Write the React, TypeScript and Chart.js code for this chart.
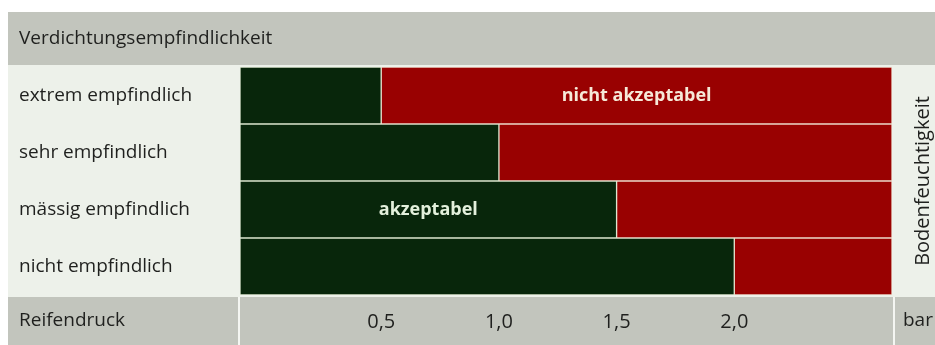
import React, { useEffect, useRef } from "react";
import { Chart, registerables } from "chart.js";

Chart.register(...registerables);

// ---- data ----
const categories = [
  "extrem empfindlich",
  "sehr empfindlich",
  "mässig empfindlich",
  "nicht empfindlich",
];
// tyre pressure (bar) up to which the load is acceptable
const acceptableLimit = [0.5, 1.0, 1.5, 2.0];
const tickValues = [0.5, 1.0, 1.5, 2.0];
const xMin = -0.1;
const xMax = 2.67;

const headerLabel = "Verdichtungsempfindlichkeit";
const axisLabel = "Reifendruck";
const unitLabel = "bar";
const sideLabel = "Bodenfeuchtigkeit";
const annotations = [
  { row: 0, segment: "red", text: "nicht akzeptabel" },
  { row: 2, segment: "green", text: "akzeptabel" },
];

const FONT = "'Open Sans', 'Noto Sans', sans-serif";
const GREEN = "#08260b";
const RED = "#990101";
const GRAY = "#c2c5bd";
const LIGHT = "#edf1ea";
const TEXT = "#1f201e";

const backgroundPlugin = {
  id: "bgPanels",
  beforeDraw(chart: any) {
    const { ctx, chartArea } = chart;
    const W = chart.width;
    const H = chart.height;
    ctx.save();
    ctx.fillStyle = "#ffffff";
    ctx.fillRect(0, 0, W, H);
    // light body
    ctx.fillStyle = LIGHT;
    ctx.fillRect(8, chartArea.top - 2, W - 8, chartArea.bottom - chartArea.top + 4);
    // top gray band
    ctx.fillStyle = GRAY;
    ctx.fillRect(8, 12, W - 8, chartArea.top - 2 - 12);
    // bottom gray band
    ctx.fillRect(8, chartArea.bottom + 2, W - 8, H - chartArea.bottom - 2);
    // white separators in bottom band
    ctx.fillStyle = "#f4f6f2";
    ctx.fillRect(chartArea.left - 2, chartArea.bottom + 2, 2, H - chartArea.bottom);
    ctx.fillRect(chartArea.right + 1, chartArea.bottom + 2, 2, H - chartArea.bottom);
    ctx.restore();
  },
  afterDraw(chart: any) {
    const { ctx, chartArea } = chart;
    const H = chart.height;
    ctx.save();
    ctx.fillStyle = TEXT;
    ctx.font = `19px ${FONT}`;
    ctx.textBaseline = "middle";
    ctx.textAlign = "left";
    ctx.fillText(headerLabel, 19, (12 + chartArea.top - 2) / 2);
    const by = (chartArea.bottom + 2 + H) / 2;
    ctx.fillText(axisLabel, 19, by);
    ctx.fillText(unitLabel, chartArea.right + 11, by);
    // rotated side label
    ctx.font = `20px ${FONT}`;
    ctx.translate(chartArea.right + 31, (chartArea.top + chartArea.bottom) / 2);
    ctx.rotate(-Math.PI / 2);
    ctx.textAlign = "center";
    ctx.fillText(sideLabel, 0, 0);
    ctx.restore();
  },
};

const annotationPlugin = {
  id: "segmentLabels",
  afterDatasetsDraw(chart: any) {
    const { ctx } = chart;
    const xs = chart.scales.x;
    const ys = chart.scales.y;
    ctx.save();
    ctx.font = `bold 18px ${FONT}`;
    ctx.textAlign = "center";
    ctx.textBaseline = "middle";
    annotations.forEach((a) => {
      const lim = acceptableLimit[a.row];
      const x0 = a.segment === "green" ? xs.getPixelForValue(xMin) : xs.getPixelForValue(lim);
      const x1 = a.segment === "green" ? xs.getPixelForValue(lim) : xs.getPixelForValue(xMax);
      ctx.fillStyle = a.segment === "green" ? "#e3f0dc" : "#f6e9d8";
      ctx.fillText(a.text, (x0 + x1) / 2, ys.getPixelForValue(a.row));
    });
    ctx.restore();
  },
};

export default function App() {
  const ref = useRef<HTMLCanvasElement | null>(null);
  useEffect(() => {
    document.body.style.margin = "0";
    const canvas = ref.current;
    if (!canvas) return;
    const chart = new Chart(canvas, {
      type: "bar",
      data: {
        labels: categories,
        datasets: [
          {
            label: "akzeptabel",
            data: acceptableLimit.map((v) => [xMin, v]) as any,
            backgroundColor: GREEN,
            borderColor: "#dbe6cf",
            borderWidth: 1,
            borderSkipped: false,
            grouped: false,
            barPercentage: 1,
            categoryPercentage: 1,
          },
          {
            label: "nicht akzeptabel",
            data: acceptableLimit.map((v) => [v, xMax]) as any,
            backgroundColor: RED,
            borderColor: "#ecd9c8",
            borderWidth: 1,
            borderSkipped: false,
            grouped: false,
            barPercentage: 1,
            categoryPercentage: 1,
          },
        ],
      },
      options: {
        indexAxis: "y",
        responsive: false,
        animation: false,
        layout: { padding: { left: 19, right: 43, top: 67, bottom: 0 } },
        plugins: {
          legend: { display: false },
          tooltip: { enabled: false },
        },
        scales: {
          x: {
            type: "linear",
            position: "bottom",
            min: xMin,
            max: xMax,
            grid: { display: false, drawTicks: false },
            border: { display: false },
            afterBuildTicks: (scale: any) => {
              scale.ticks = tickValues.map((v) => ({ value: v }));
            },
            afterFit: (scale: any) => {
              scale.height = 50;
            },
            ticks: {
              autoSkip: false,
              maxRotation: 0,
              padding: 15,
              color: TEXT,
              font: { family: FONT, size: 20 },
              callback: (v: any) => Number(v).toFixed(1).replace(".", ","),
            },
          },
          y: {
            type: "category",
            position: "left",
            grid: { display: false, drawTicks: false },
            border: { display: false },
            afterFit: (scale: any) => {
              scale.width = 221;
            },
            ticks: {
              crossAlign: "far",
              padding: 0,
              color: TEXT,
              font: { family: FONT, size: 19 },
            },
          },
        },
      },
      plugins: [backgroundPlugin, annotationPlugin],
    });
    return () => chart.destroy();
  }, []);
  return (
    <div style={{ position: "absolute", left: 0, top: 0, width: 935, height: 345 }}>
      <canvas ref={ref} width={935} height={345} />
    </div>
  );
}
